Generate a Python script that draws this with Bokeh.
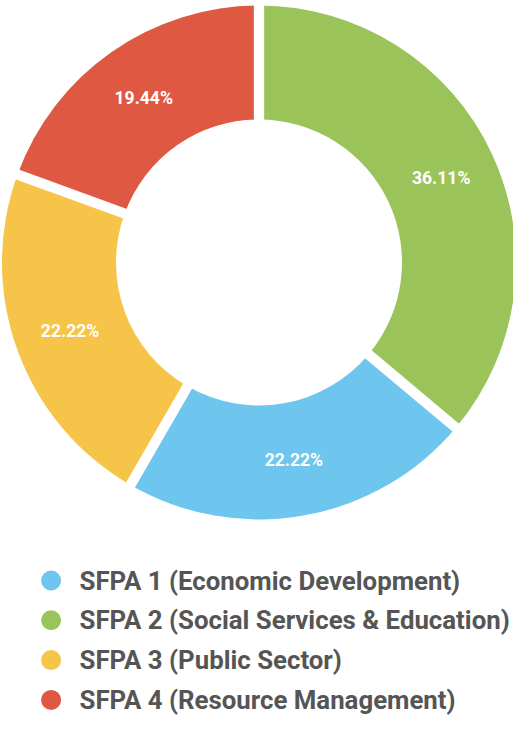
import math
from bokeh.plotting import figure
from bokeh.models import Range1d, ColumnDataSource
from bokeh.embed import file_html
from bokeh.resources import INLINE
from bokeh.core.properties import value

# ---- data (drawing order: clockwise from 12 o'clock) ----
slice_names = ["SFPA 2 (Social Services & Education)", "SFPA 1 (Economic Development)",
               "SFPA 3 (Public Sector)", "SFPA 4 (Resource Management)"]
slice_values = [36.11, 22.22, 22.22, 19.44]
slice_colors = ["#9AC45A", "#6EC5EE", "#F6C448", "#DF5942"]

legend_labels = ["SFPA 1 (Economic Development)", "SFPA 2 (Social Services & Education)",
                 "SFPA 3 (Public Sector)", "SFPA 4 (Resource Management)"]
legend_colors = ["#6EC5EE", "#9AC45A", "#F6C448", "#DF5942"]

# ---- layout (figure pixels, y measured downward from the top) ----
W, H = 513, 715
def py(pix_y):
    return H - pix_y

CX, CY = 258.5, py(262.0)
R_OUT, R_IN = 257.0, 143.0
GAP = 10.3

p = figure(width=W, height=H, x_range=Range1d(0, W), y_range=Range1d(0, H),
           output_backend="svg", toolbar_location=None, min_border=0)
p.xaxis.visible = False
p.yaxis.visible = False
p.grid.visible = False
p.outline_line_color = None
p.background_fill_color = "white"
p.border_fill_color = "white"

total = sum(slice_values)
starts, ends, mids = [], [], []
a = math.pi / 2
for v in slice_values:
    span = v / total * 2 * math.pi
    starts.append(a - span)
    ends.append(a)
    mids.append(a - span / 2)
    a -= span

src = ColumnDataSource(dict(start=starts, end=ends, color=slice_colors))
p.annular_wedge(x=CX, y=CY, inner_radius=R_IN, outer_radius=R_OUT, start_angle="start",
                end_angle="end", color="color", line_color=None, source=src)

# white gaps between slices
bx0, by0, bx1, by1 = [], [], [], []
for ang in ends:
    bx0.append(CX + (R_IN - 5) * math.cos(ang))
    by0.append(CY + (R_IN - 5) * math.sin(ang))
    bx1.append(CX + (R_OUT + 10) * math.cos(ang))
    by1.append(CY + (R_OUT + 10) * math.sin(ang))
p.segment(x0=bx0, y0=by0, x1=bx1, y1=by1, line_color="white", line_width=GAP)

# percentage labels
r_lab = (R_IN + R_OUT) / 2 + 1
lx = [CX + r_lab * math.cos(m) for m in mids]
ly = [CY + r_lab * math.sin(m) for m in mids]
p.text(x=lx, y=ly, text=["%.2f%%" % v for v in slice_values], text_color="white",
       text_font=value("Roboto"), text_font_style="bold", text_font_size="17.6px",
       text_align="center", text_baseline="middle")

# legend
row0, step = 580.0, 39.8
ly_mid = [py(row0 + i * step) for i in range(len(legend_labels))]
p.scatter(x=[50.6] * 4, y=ly_mid, size=20, color=legend_colors, line_color=None)
p.text(x=[79.0] * 4, y=ly_mid, text=legend_labels, text_color="#555555",
       text_font=value("Roboto"), text_font_style="bold", text_font_size="25.8px",
       text_align="left", text_baseline="middle")

open("out.html", "w").write(file_html(p, INLINE))
